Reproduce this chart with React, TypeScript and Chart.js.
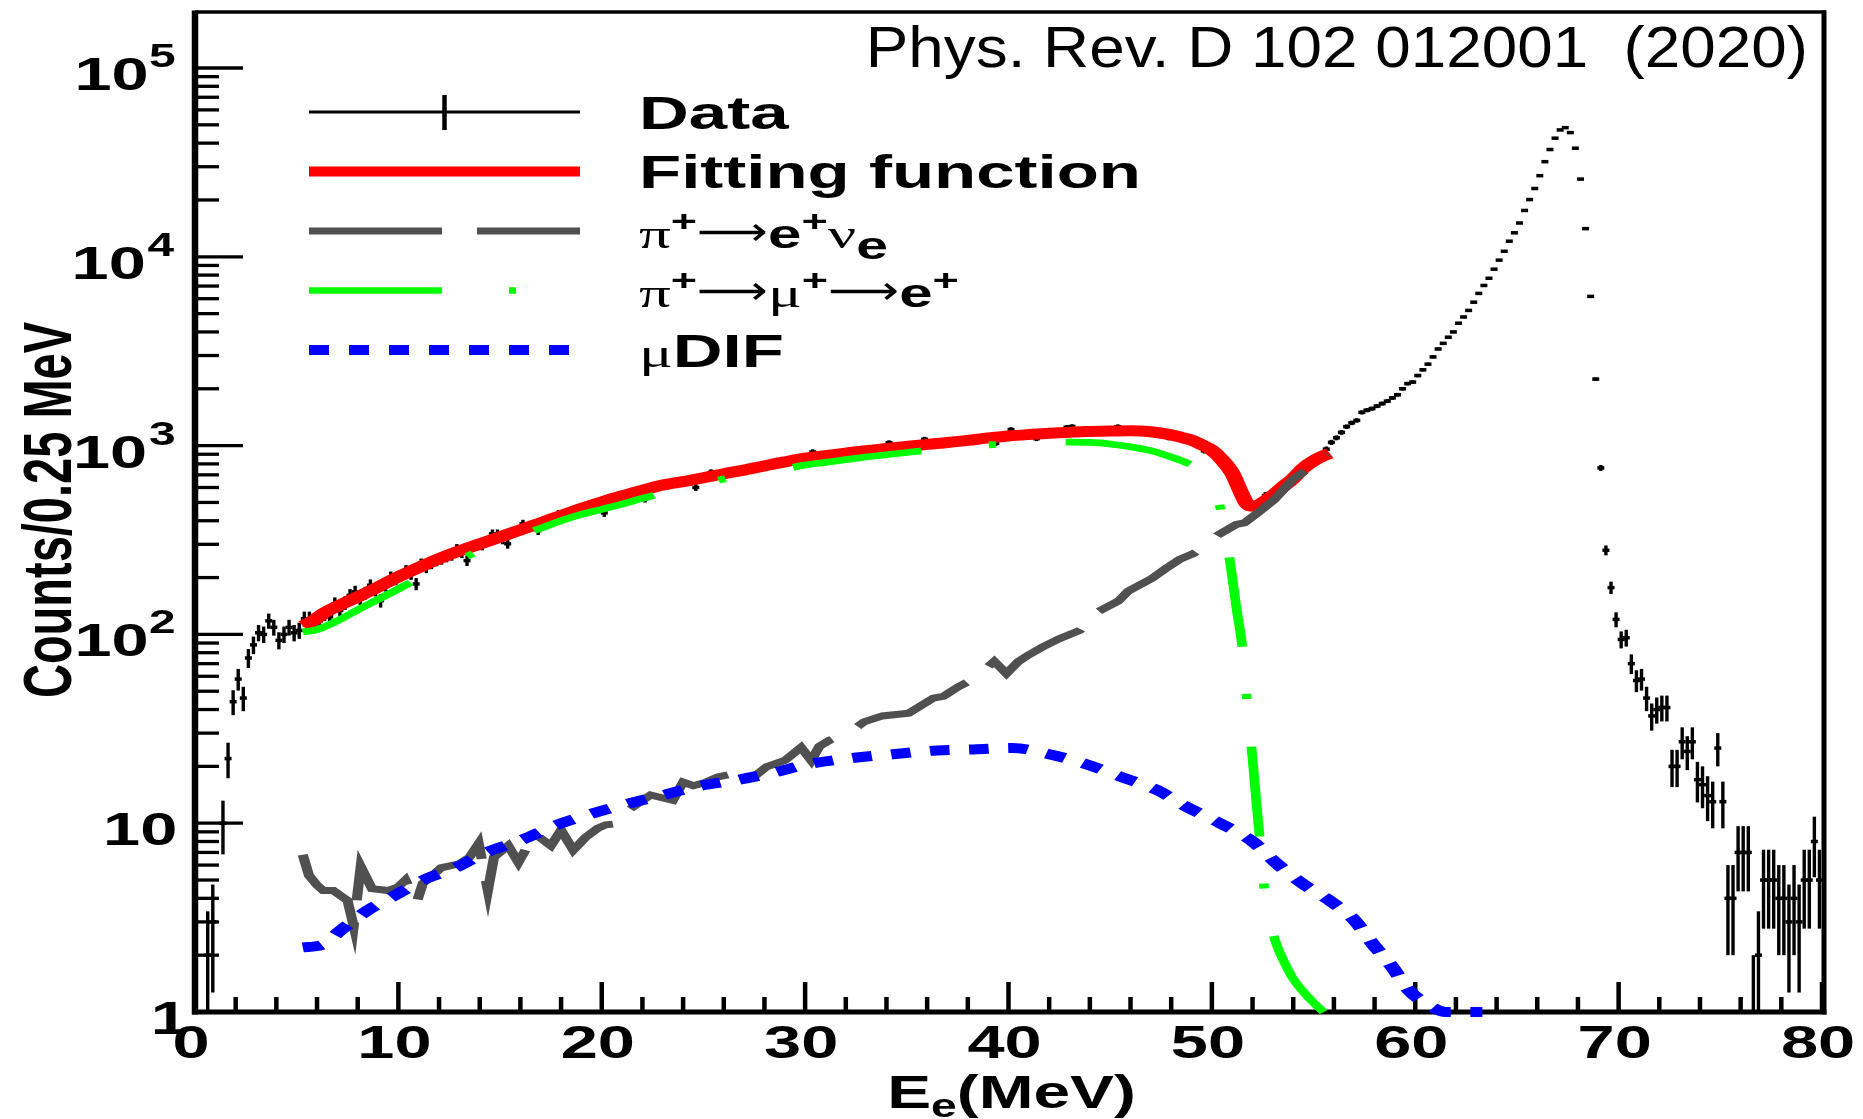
import React, { useEffect, useRef } from "react";
import { Chart, registerables } from "chart.js";

Chart.register(...registerables);

// ---------------- data ----------------
const BIN_FIRST_CENTER = 0.125; // MeV
const BIN_WIDTH = 0.25; // MeV

// Counts per 0.25 MeV bin, bins 0.125 ... 79.875 MeV (4 bins per line = 1 MeV)
const DATA_COUNTS: (number | null)[] = [
  null, null, 2, 3,
  null, 10, 22, 44,
  58, 46, 75, 88,
  102, 100, 118, 109,
  93, 100, 109, 102,
  105, 121, 121, 112,
  118, 129, 124, 145,
  134, 147, 161, 168,
  155, 166, 182, 172,
  151, 182, 201, 196,
  205, 218, 209, 185,
  237, 226, 237, 245,
  250, 257, 262, 284,
  270, 246, 290, 302,
  296, 310, 341, 341,
  318, 302, 345, 352,
  385, 366, 372, 355,
  388, 398, 420, 435,
  418, 430, 453, 450,
  468, 475, 480, 495,
  440, 510, 520, 544,
  540, 548, 566, 572,
  522, 590, 600, 612,
  620, 625, 635, 640,
  650, 640, 600, 668,
  680, 722, 690, 705,
  712, 720, 735, 730,
  745, 760, 752, 775,
  800, 790, 805, 832,
  818, 830, 845, 850,
  870, 925, 868, 880,
  885, 892, 900, 905,
  915, 920, 930, 938,
  945, 950, 955, 960,
  1035, 975, 980, 985,
  990, 995, 1000, 1080,
  1015, 1020, 1025, 1030,
  1040, 1045, 1050, 1058,
  1068, 1072, 1080, 1090,
  1095, 1028, 1110, 1118,
  1216, 1130, 1135, 1140,
  1142, 1089, 1150, 1158,
  1162, 1165, 1170, 1250,
  1262, 1180, 1182, 1185,
  1188, 1190, 1192, 1195,
  1196, 1260, 1198, 1200,
  1200, 1198, 1195, 1190,
  1180, 1172, 1160, 1100,
  1130, 1115, 1098, 1080,
  1060, 1030, 939, 960,
  930, 870, 810, 740,
  660, 580, 520, 485,
  478, 490, 544, 530,
  556, 590, 620, 655,
  723, 735, 775, 815,
  845, 870, 958, 1040,
  1100, 1175, 1260, 1320,
  1360, 1500, 1540, 1570,
  1620, 1670, 1720, 1790,
  1860, 2000, 2130, 2170,
  2350, 2520, 2700, 2950,
  3250, 3480, 3750, 4000,
  4450, 4800, 5200, 5750,
  6400, 7050, 7700, 8600,
  9600, 10700, 12100, 13400,
  15100, 17600, 20100, 23000,
  26900, 31900, 37000, 42500,
  47000, 48300, 45500, 37600,
  25800, 14100, 6170, 2250,
  762, 279, 177, 120,
  94, 96, 70, 57,
  58, 46, 37, 40,
  41, 41, 20, 20,
  27, 24, 27, 17,
  16, 14, 13, 25,
  13, 4, 4, 7,
  7, 7, 1, 2,
  5, 5, 5, 4,
  4, 3, 4, 3,
  5, 5, 8, 5,
];

// Fitting function (red)
const FIT_E = [5.3, 5.8, 6.3, 7, 8, 9, 10, 11, 12, 13, 14, 15, 16, 17, 18, 19, 20, 21, 22, 23, 24, 25, 26, 27, 28, 29, 30, 31, 32, 33, 34, 35, 36, 37, 38, 39, 40, 41, 42, 43, 44, 45, 46, 47, 47.8, 48.5, 49, 49.5, 50, 50.5, 51, 51.5, 51.8, 52.1, 52.4, 53, 53.5, 54, 54.5, 55, 55.5, 55.8];
const FIT_Y = [111, 118, 129, 141, 158, 178, 202, 226, 252, 277, 301, 328, 358, 390, 425, 465, 503, 542, 580, 618, 645, 676, 710, 742, 780, 820, 858, 885, 912, 940, 965, 990, 1015, 1038, 1065, 1098, 1125, 1145, 1162, 1178, 1188, 1196, 1200, 1185, 1150, 1105, 1068, 1010, 945, 840, 715, 545, 482, 478, 492, 544, 605, 670, 760, 830, 885, 910];

// pi+ -> e+ nu_e (dark grey)
const ENU_E = [5.3, 5.6, 6.0, 6.3, 6.8, 7.2, 7.5, 7.8, 8.15, 8.7, 9.5, 10.0, 10.35, 10.9, 11.2, 11.6, 12.1, 13.0, 13.5, 13.95, 14.4, 14.7, 15.4, 15.9, 16.7, 17.5, 18.0, 18.6, 19.2, 19.8, 20.2, 21.0, 21.3, 22.4, 23.5, 24.0, 24.5, 25.0, 25.7, 26.6, 27.1, 28.1, 29.0, 29.8, 30.3, 30.7, 31.2, 32.1, 32.9, 33.8, 35.1, 35.7, 36.3, 36.8, 37.5, 38.4, 39.3, 39.9, 40.5, 41.0, 41.7, 42.5, 43.5, 44.4, 45.4, 45.9, 47.05, 47.7, 48.4, 49.1, 49.7, 50.3, 51.2, 51.6, 52.3, 53.07, 54.0, 55.0, 55.7];
const ENU_Y = [6.8, 5.3, 4.7, 4.4, 4.4, 4.1, 3.9, 2.85, 5.9, 4.5, 4.4, 4.6, 5.0, 3.8, 4.8, 5.2, 5.8, 6.1, 6.6, 7.8, 4.4, 6.6, 7.6, 6.2, 8.8, 7.6, 9.2, 7.2, 8.4, 9.4, 9.8, 10.0, 11.7, 14.1, 13.2, 16.5, 15.8, 16.3, 17.6, 18.4, 16.3, 19.9, 21.5, 25.2, 21.5, 25.5, 27.5, 29.9, 34.4, 37, 38.3, 42, 46, 47, 52.6, 59, 72, 62, 72, 78, 86, 95, 105, 132, 150, 170, 198, 222, 249, 268, 297, 336, 382, 390, 444, 518, 665, 790, 900];

// pi+ -> mu+ -> e+ (green)
const MUE_E = [5.3, 6, 7, 8, 9, 10, 11, 12, 13, 14, 15, 16, 17, 18, 19, 20, 21, 22, 23, 24, 25, 26, 27, 28, 29, 30, 31, 32, 33, 34, 35, 36, 37, 38, 39, 40, 41, 42, 43, 44, 45, 46, 47, 48, 49, 49.5, 50, 50.5, 50.9, 51.2, 51.5, 51.75, 52.0, 52.2, 52.4, 52.6, 52.9, 53.2, 53.6, 54.0, 54.5, 55.0, 55.5];
const MUE_Y = [103, 106, 118, 135, 153, 174, 198, 222, 248, 278, 308, 335, 365, 400, 432, 460, 490, 525, 560, 595, 630, 665, 695, 725, 755, 788, 815, 843, 870, 895, 920, 945, 968, 990, 1008, 1022, 1033, 1040, 1043, 1040, 1020, 985, 940, 870, 790, 740, 620, 430, 240, 140, 85, 42, 22, 12.5, 7.4, 4.3, 2.9, 2.25, 1.8, 1.5, 1.28, 1.12, 1.0];

// mu decay-in-flight (blue)
const DIF_E = [5.3, 6.2, 7.3, 8.5, 9.7, 11.4, 12.8, 14.3, 16.0, 17.8, 19.6, 21.3, 23.05, 24.6, 26.6, 28.6, 30.1, 32.1, 34.3, 36.5, 38.3, 40.2, 42.0, 43.9, 45.6, 47.3, 48.7, 50.4, 52.0, 53.2, 54.5, 55.7, 57.0, 57.9, 58.8, 59.7, 60.9, 61.5, 63.3];
const DIF_Y = [2.2, 2.26, 2.78, 3.46, 4.07, 5.1, 5.8, 7.0, 8.1, 9.8, 11.3, 12.7, 14.1, 15.6, 16.9, 18.7, 20.5, 22, 23.2, 24.3, 24.6, 25, 23.2, 20.4, 17.5, 15, 12.3, 10, 8.0, 6.1, 4.75, 3.95, 3.07, 2.3, 1.77, 1.3, 1.05, 1.0, 1.0];

// axes
const X_RANGE = [0, 80];
const Y_RANGE = [1, 198000];
const X_MAJOR_TICKS = [0, 10, 20, 30, 40, 50, 60, 70, 80];
const X_MINOR_STEP = 2;
const Y_DECADES = [0, 1, 2, 3, 4, 5];
const Y_TICK_LABELS: [string, string][] = [["1", ""], ["10", ""], ["10", "2"], ["10", "3"], ["10", "4"], ["10", "5"]];
const X_TITLE = ["E", "e", "(MeV)"];
const Y_TITLE = "Counts/0.25 MeV";
const REFERENCE_TEXT = "Phys. Rev. D 102 012001  (2020)";

// ---------------- styles ----------------
const SANS = '"Liberation Sans", Arial, Helvetica, sans-serif';
const SERIF = '"Liberation Serif", "Times New Roman", "DejaVu Serif", serif';
const ARROW_FONT = '"DejaVu Sans", "Liberation Serif", serif';
const SX = 1.45; // horizontal stretch of the original ROOT canvas
const LEG_SX = 1.5;
const COL_RED = "#ff0000";
const COL_GREEN = "#00ff00";
const COL_GREY = "#505050";
const COL_BLUE = "#0000ff";

type Seg = { t: string; size: number; serif?: boolean; bold?: boolean; dy?: number; w?: number; font?: string };

const SUP = -17;
const SUB = 11;
const ARROW: Seg = { t: "⟶", size: 40, font: ARROW_FONT, w: 71, dy: -3 };
const LEGEND_ROWS: { kind: string; segs: Seg[] }[] = [
  { kind: "data", segs: [{ t: "Data", size: 46, bold: true }] },
  { kind: "fit", segs: [{ t: "Fitting function", size: 46, bold: true }] },
  {
    kind: "enu",
    segs: [
      { t: "π", size: 42, serif: true },
      { t: "+", size: 30, bold: true, dy: SUP },
      ARROW,
      { t: "e", size: 40, bold: true },
      { t: "+", size: 30, bold: true, dy: SUP },
      { t: "ν", size: 42, serif: true },
      { t: "e", size: 38, bold: true, dy: SUB },
    ],
  },
  {
    kind: "mue",
    segs: [
      { t: "π", size: 42, serif: true },
      { t: "+", size: 30, bold: true, dy: SUP },
      ARROW,
      { t: "μ", size: 42, serif: true },
      { t: "+", size: 30, bold: true, dy: SUP },
      ARROW,
      { t: "e", size: 40, bold: true },
      { t: "+", size: 30, bold: true, dy: SUP },
    ],
  },
  {
    kind: "dif",
    segs: [
      { t: "μ", size: 42, serif: true },
      { t: "DIF", size: 46, bold: true },
    ],
  },
];

function segFont(s: Seg) {
  return `${s.bold ? "bold " : ""}${s.size}px ${s.font ? s.font : s.serif ? SERIF : SANS}`;
}

function measureSegs(ctx: CanvasRenderingContext2D, segs: Seg[], sx: number) {
  let w = 0;
  for (const s of segs) {
    ctx.font = segFont(s);
    w += s.w ? s.w : ctx.measureText(s.t).width * sx;
  }
  return w;
}

function drawSegs(ctx: CanvasRenderingContext2D, segs: Seg[], x: number, y: number, sx: number) {
  let cx = x;
  for (const s of segs) {
    ctx.save();
    ctx.font = segFont(s);
    ctx.textAlign = "left";
    ctx.textBaseline = "alphabetic";
    const m = ctx.measureText(s.t).width;
    const k = s.w ? s.w / m : sx;
    ctx.translate(cx, y + (s.dy || 0));
    ctx.scale(k, 1);
    ctx.fillText(s.t, 0, 0);
    ctx.restore();
    cx += m * k;
  }
  return cx - x;
}

// draw text so that the right edge of its ink lands on xRight
function drawInkRight(ctx: CanvasRenderingContext2D, s: Seg, xRight: number, y: number, sx: number) {
  ctx.save();
  ctx.font = segFont(s);
  ctx.textAlign = "left";
  ctx.textBaseline = "alphabetic";
  const m = ctx.measureText(s.t);
  const inkRight = m.actualBoundingBoxRight;
  const inkLeft = -m.actualBoundingBoxLeft;
  ctx.translate(xRight - inkRight * sx, y + (s.dy || 0));
  ctx.scale(sx, 1);
  ctx.fillText(s.t, 0, 0);
  ctx.restore();
  return xRight - (inkRight - inkLeft) * sx; // left edge of ink
}

function toPoints(xs: number[], ys: number[]) {
  return xs.map((x, i) => ({ x, y: ys[i] }));
}

const DATA_POINTS = DATA_COUNTS.map((c, i) => ({ x: BIN_FIRST_CENTER + i * BIN_WIDTH, y: c })).filter(
  (p) => p.y !== null
) as { x: number; y: number }[];

// ---------------- plugins ----------------
// The original ROOT canvas was stretched horizontally; reproduce that look for curves
// (dash lengths and stroke widths) by stroking the library-computed path in a stretched space.
const stretchPlugin = {
  id: "rootStretch",
  beforeDatasetDraw(chart: any, args: any) {
    const ds = chart.data.datasets[args.index];
    if (!ds.rootStretch) return;
    const meta = args.meta;
    const { ctx, chartArea: a } = chart;
    const m = (ds.borderWidth || 1) * SX;
    ctx.save();
    ctx.beginPath();
    ctx.rect(a.left - m, a.top - m, a.right - a.left + 2 * m, a.bottom - a.top + 2 * m);
    ctx.clip();
    ctx.scale(SX, 1);
    meta._rootSaved = meta.data.map((p: any) => [p.x, p.cp1x, p.cp2x]);
    for (const p of meta.data) {
      p.x = p.x / SX;
      if (typeof p.cp1x === "number") p.cp1x = p.cp1x / SX;
      if (typeof p.cp2x === "number") p.cp2x = p.cp2x / SX;
    }
    if (meta.dataset) meta.dataset._path = undefined;
  },
  afterDatasetDraw(chart: any, args: any) {
    const meta = args.meta;
    if (!meta._rootSaved) return;
    meta.data.forEach((p: any, i: number) => {
      const s = meta._rootSaved[i];
      p.x = s[0];
      if (typeof s[1] === "number") p.cp1x = s[1];
      if (typeof s[2] === "number") p.cp2x = s[2];
    });
    meta._rootSaved = null;
    if (meta.dataset) meta.dataset._path = undefined;
    chart.ctx.restore();
  },
};

const framePlugin = {
  id: "rootFrame",
  beforeDatasetsDraw(chart: any) {
    const { ctx, chartArea: a, scales } = chart;
    const xs = scales.x;
    const ys = scales.y;
    ctx.save();
    ctx.strokeStyle = "#000";
    ctx.lineCap = "butt";
    ctx.lineWidth = 3.5;
    ctx.beginPath();
    ctx.moveTo(a.left, a.top);
    ctx.lineTo(a.right + 4, a.top);
    ctx.stroke();
    ctx.lineWidth = 5;
    ctx.beginPath();
    ctx.moveTo(a.right + 2, a.top - 1.5);
    ctx.lineTo(a.right + 2, a.bottom + 2.5);
    ctx.stroke();
    ctx.beginPath();
    ctx.moveTo(a.left - 3, a.bottom);
    ctx.lineTo(a.right + 4.5, a.bottom);
    ctx.stroke();
    ctx.lineWidth = 6.5;
    ctx.beginPath();
    ctx.moveTo(a.left, a.top - 1.5);
    ctx.lineTo(a.left, a.bottom + 2.5);
    ctx.stroke();
    ctx.lineWidth = 3.3;
    for (const d of Y_DECADES) {
      for (let m = 1; m <= 9; m++) {
        const v = m * Math.pow(10, d);
        if (v < Y_RANGE[0] || v > Y_RANGE[1]) continue;
        const y = ys.getPixelForValue(v);
        const len = m === 1 ? 48 : 24;
        ctx.beginPath();
        ctx.moveTo(a.left, y);
        ctx.lineTo(a.left + len, y);
        ctx.stroke();
      }
    }
    ctx.lineWidth = 4.5;
    for (let v = X_RANGE[0]; v <= X_RANGE[1]; v += X_MINOR_STEP) {
      const x = xs.getPixelForValue(v);
      const major = X_MAJOR_TICKS.includes(v);
      const len = major ? 30 : 15;
      ctx.beginPath();
      ctx.moveTo(x, a.bottom);
      ctx.lineTo(x, a.bottom - len);
      ctx.stroke();
    }
    ctx.restore();
  },
};

const errorBarPlugin = {
  id: "errorBars",
  afterDatasetDraw(chart: any, args: any) {
    const ds = chart.data.datasets[args.index];
    if (ds.label !== "Data") return;
    const { ctx, chartArea: a, scales } = chart;
    const xs = scales.x;
    const ys = scales.y;
    ctx.save();
    ctx.beginPath();
    ctx.rect(a.left, a.top, a.right - a.left, a.bottom - a.top + 2);
    ctx.clip();
    ctx.strokeStyle = "#000";
    ctx.lineWidth = 3.4;
    ctx.lineCap = "butt";
    for (const p of DATA_POINTS) {
      const err = Math.sqrt(p.y);
      const hi = p.y + err;
      const lo = Math.max(p.y - err, Y_RANGE[0] * 0.9);
      const x = xs.getPixelForValue(p.x);
      ctx.beginPath();
      ctx.moveTo(x, ys.getPixelForValue(hi));
      ctx.lineTo(x, ys.getPixelForValue(lo));
      ctx.stroke();
    }
    ctx.restore();
  },
};

const textPlugin = {
  id: "rootText",
  afterDraw(chart: any) {
    const { ctx, chartArea: a, scales } = chart;
    const xs = scales.x;
    const ys = scales.y;
    ctx.save();
    ctx.fillStyle = "#000";

    // y tick labels
    const labelRight = a.left - 20;
    Y_DECADES.forEach((d, i) => {
      const y = ys.getPixelForValue(Math.pow(10, d)) + 22;
      const [base, exp] = Y_TICK_LABELS[i];
      if (exp) {
        const left = drawInkRight(ctx, { t: exp, size: 33, bold: true, dy: -23 }, labelRight, y, SX);
        drawInkRight(ctx, { t: base, size: 46, bold: true }, left - 4, y, SX);
      } else {
        const extra = base.length === 1 ? 12 : 0;
        drawInkRight(ctx, { t: base, size: 46, bold: true }, labelRight + extra, y, SX);
      }
    });

    // x tick labels
    for (const v of X_MAJOR_TICKS) {
      const segs: Seg[] = [{ t: String(v), size: 46, bold: true }];
      const w = measureSegs(ctx, segs, SX);
      const x = xs.getPixelForValue(v) - 4;
      drawSegs(ctx, segs, x - w / 2, a.bottom + 46, SX);
    }

    // x title
    const xt: Seg[] = [
      { t: X_TITLE[0], size: 47, bold: true },
      { t: X_TITLE[1], size: 33, bold: true, dy: 9 },
      { t: X_TITLE[2], size: 47, bold: true },
    ];
    const xtw = measureSegs(ctx, xt, 1.4);
    drawSegs(ctx, xt, (a.left + a.right) / 2 + 3 - xtw / 2, a.bottom + 96, 1.4);

    // y title (rotated)
    ctx.save();
    ctx.translate(a.left - 124, (a.top + a.bottom) / 2 - 2);
    ctx.scale(SX, 1);
    ctx.rotate(-Math.PI / 2);
    ctx.font = `bold 47px ${SANS}`;
    ctx.textAlign = "center";
    ctx.textBaseline = "alphabetic";
    ctx.fillText(Y_TITLE, 0, 0);
    ctx.restore();

    // reference text
    const refSeg: Seg[] = [{ t: REFERENCE_TEXT, size: 58 }];
    const rw = measureSegs(ctx, refSeg, 1.1);
    drawSegs(ctx, refSeg, a.right - 14 - rw, a.top + 55, 1.1);

    // legend
    const x0 = a.left + 114;
    const x1 = a.left + 385;
    const tx = a.left + 444;
    LEGEND_ROWS.forEach((row, i) => {
      const y = a.top + 100 + 59.5 * i;
      ctx.save();
      ctx.lineCap = "butt";
      if (row.kind === "data") {
        ctx.strokeStyle = "#000";
        ctx.lineWidth = 3;
        ctx.beginPath();
        ctx.moveTo(x0, y);
        ctx.lineTo(x1, y);
        ctx.stroke();
        ctx.lineWidth = 4.5;
        ctx.beginPath();
        ctx.moveTo((x0 + x1) / 2, y - 17);
        ctx.lineTo((x0 + x1) / 2, y + 18);
        ctx.stroke();
      } else if (row.kind === "fit") {
        ctx.strokeStyle = COL_RED;
        ctx.lineWidth = 10;
        ctx.beginPath();
        ctx.moveTo(x0, y);
        ctx.lineTo(x1, y);
        ctx.stroke();
      } else if (row.kind === "enu") {
        ctx.strokeStyle = COL_GREY;
        ctx.lineWidth = 7;
        ctx.setLineDash([133, 35]);
        ctx.beginPath();
        ctx.moveTo(x0, y);
        ctx.lineTo(x1, y);
        ctx.stroke();
      } else if (row.kind === "mue") {
        ctx.strokeStyle = COL_GREEN;
        ctx.lineWidth = 6.5;
        ctx.setLineDash([133, 67, 7, 100]);
        ctx.beginPath();
        ctx.moveTo(x0, y);
        ctx.lineTo(x1, y);
        ctx.stroke();
      } else if (row.kind === "dif") {
        ctx.strokeStyle = COL_BLUE;
        ctx.lineWidth = 10;
        ctx.setLineDash([20, 20]);
        ctx.beginPath();
        ctx.moveTo(x0, y);
        ctx.lineTo(x1 - 11, y);
        ctx.stroke();
      }
      ctx.restore();
      ctx.fillStyle = "#000";
      drawSegs(ctx, row.segs, tx, y + 16.5, LEG_SX);
    });
    ctx.restore();
  },
};

// ---------------- component ----------------
const CANVAS_W = 1863;
const CANVAS_H = 1119;

export default function App() {
  const ref = useRef<HTMLCanvasElement | null>(null);

  useEffect(() => {
    document.body.style.margin = "0";
    const canvas = ref.current;
    if (!canvas) return;
    const chart = new Chart(canvas, {
      type: "line",
      data: {
        datasets: [
          {
            label: "μDIF",
            data: toPoints(DIF_E, DIF_Y),
            borderColor: COL_BLUE,
            borderWidth: 10,
            borderDash: [13.5, 13.5],
            borderCapStyle: "butt",
            pointRadius: 0,
            fill: false,
            cubicInterpolationMode: "monotone",
            clip: false,
            rootStretch: true,
            order: 1,
          },
          {
            label: "π+→μ+→e+",
            data: toPoints(MUE_E, MUE_Y),
            borderColor: COL_GREEN,
            borderWidth: 6.7,
            borderDash: [90, 47, 5, 48],
            borderCapStyle: "butt",
            pointRadius: 0,
            fill: false,
            cubicInterpolationMode: "monotone",
            clip: false,
            rootStretch: true,
            order: 2,
          },
          {
            label: "π+→e+νe",
            data: toPoints(ENU_E, ENU_Y),
            borderColor: COL_GREY,
            borderWidth: 7,
            borderDash: [90, 22],
            borderCapStyle: "butt",
            borderJoinStyle: "miter",
            pointRadius: 0,
            fill: false,
            tension: 0,
            clip: false,
            rootStretch: true,
            order: 3,
          },
          {
            label: "Fitting function",
            data: toPoints(FIT_E, FIT_Y),
            borderColor: COL_RED,
            borderWidth: 11,
            borderJoinStyle: "round",
            pointRadius: 0,
            fill: false,
            cubicInterpolationMode: "monotone",
            clip: false,
            rootStretch: true,
            order: 4,
          },
          {
            label: "Data",
            data: DATA_POINTS,
            showLine: false,
            pointStyle: "line",
            pointRadius: 3.5,
            pointBorderWidth: 3.5,
            pointBorderColor: "#000",
            pointBackgroundColor: "#000",
            borderColor: "#000",
            order: 5,
          },
        ] as any,
      },
      options: {
        animation: false,
        responsive: false,
        devicePixelRatio: 1,
        events: [],
        layout: { padding: { left: 195, top: 12, right: CANVAS_W - 1822, bottom: CANVAS_H - 1012 } },
        scales: {
          x: { type: "linear", min: X_RANGE[0], max: X_RANGE[1], display: false },
          y: { type: "logarithmic", min: Y_RANGE[0], max: Y_RANGE[1], display: false },
        },
        plugins: {
          legend: { display: false },
          tooltip: { enabled: false },
          title: { display: false },
        },
      },
      plugins: [stretchPlugin, framePlugin, errorBarPlugin, textPlugin],
    } as any);
    return () => chart.destroy();
  }, []);

  return (
    <div style={{ width: CANVAS_W, height: CANVAS_H, overflow: "hidden", background: "#fff" }}>
      <canvas ref={ref} width={CANVAS_W} height={CANVAS_H} style={{ display: "block", width: CANVAS_W, height: CANVAS_H }} />
    </div>
  );
}
